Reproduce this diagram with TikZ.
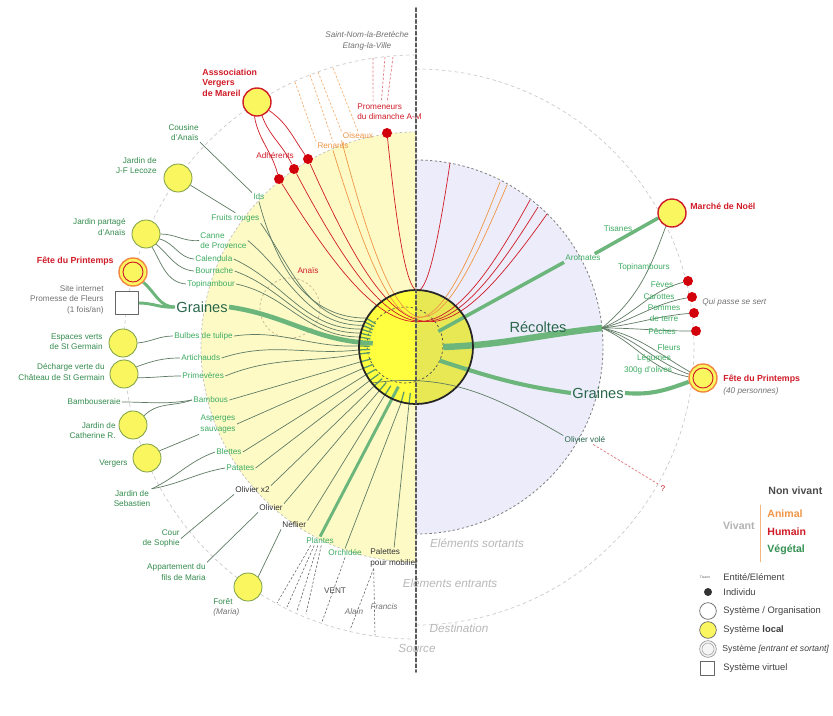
\documentclass[tikz,border=0pt]{standalone}
\usepackage{fontspec}
\setmainfont{Liberation Sans}
\usetikzlibrary{calc}
\usetikzlibrary{positioning}

\definecolor{LeafGreen}{RGB}{62,172,98}
\definecolor{SrcGreen}{RGB}{52,140,78}
\definecolor{DeepGreen}{RGB}{42,104,76}
\definecolor{FlowGreen}{RGB}{108,182,124}
\definecolor{LinkGray}{RGB}{96,124,100}
\definecolor{HumanRed}{RGB}{208,28,40}
\definecolor{DotRed}{RGB}{210,0,10}
\definecolor{AnimalOrange}{RGB}{240,150,70}
\definecolor{LocalYellow}{RGB}{250,246,96}
\definecolor{RimGreen}{RGB}{125,160,70}
\definecolor{ZoneYellow}{RGB}{253,250,198}
\definecolor{ZoneLilac}{RGB}{236,236,250}
\definecolor{CoreLeft}{RGB}{255,255,64}
\definecolor{CoreRight}{RGB}{232,232,84}
\definecolor{AnaisTan}{RGB}{200,180,140}

\pgfdeclarelayer{zones}
\pgfdeclarelayer{links}
\pgfsetlayers{zones,links,main}

\tikzset{
	lab/.style={inner sep=1pt, font=\fontsize{7}{9}\selectfont},
	itemlab/.style={lab, text=LeafGreen},
	thing/.style={lab, text=black!80},
	srclabel/.style={lab, text=SrcGreen, align=right},
	greylab/.style={lab, text=black!55, align=right},
	note/.style={lab, text=black!55, font=\fontsize{7}{9}\selectfont\itshape},
	redlab/.style={lab, text=HumanRed, font=\fontsize{7.5}{9}\selectfont\bfseries},
	humanlab/.style={lab, text=HumanRed},
	animallab/.style={lab, text=AnimalOrange},
	bigflow/.style={inner sep=1pt, text=DeepGreen, font=\fontsize{12.5}{14}\selectfont},
	zone/.style={text=black!28, font=\fontsize{10}{12}\selectfont\itshape},
	legendhead/.style={inner sep=1pt, font=\fontsize{9}{11}\selectfont\bfseries},
	legendlab/.style={lab, anchor=west, text=black!75, font=\fontsize{8}{10}\selectfont},
	localsys/.style={circle, draw=RimGreen, fill=LocalYellow, line width=0.7pt, minimum size=0.84cm, inner sep=0pt},
	orgsys/.style={localsys, draw=HumanRed, line width=1.2pt},
	eventsys/.style={localsys, draw=AnimalOrange!90!red, line width=1.2pt},
	virtsys/.style={rectangle, draw=black!60, fill=white, line width=0.9pt, minimum size=0.69cm, inner sep=0pt},
	coresys/.style={circle, draw=black!85, line width=1.5pt, minimum size=3.42cm, inner sep=0pt},
	indiv/.style={circle, fill=DotRed, minimum size=0.3cm, inner sep=0pt},
	link/.style={draw=LinkGray, line width=0.6pt},
	flowline/.style={draw=FlowGreen, line width=3pt, line cap=butt},
	tickmark/.style={draw=FlowGreen!85!black, line width=1.1pt, line cap=butt},
	humanline/.style={draw=HumanRed, line width=0.6pt},
	animalline/.style={draw=AnimalOrange, line width=0.6pt},
	humanpath/.style={draw=HumanRed!60, line width=0.6pt, dash pattern=on 2pt off 1.5pt},
	animalpath/.style={draw=AnimalOrange!75, line width=0.6pt, dash pattern=on 2pt off 1.5pt},
	srcpath/.style={draw=black!60, line width=0.5pt, dash pattern=on 2pt off 1.5pt},
	rimdash/.style={draw=black!20, line width=0.6pt, dash pattern=on 3pt off 2.5pt},
}

\begin{document}
\begin{tikzpicture}[x=0.03cm, y=0.03cm, line cap=round, line join=round]

	\useasboundingbox (0,0) rectangle (833,-715);
	\coordinate (C) at (416,-347);

	% Zones: entrants (left), sortants (right), source and destination rims
	\begin{pgfonlayer}{zones}
		\fill[white] (0,0) rectangle (833,-715);
		\fill[ZoneYellow] (416,-132) arc[start angle=90, end angle=270, radius=215] -- cycle;
		\draw[black!25, line width=0.6pt, dash pattern=on 2pt off 2pt] (416,-132) arc[start angle=90, end angle=270, radius=215];
		\fill[ZoneLilac] (416,-160) arc[start angle=90, end angle=-90, radius=187] -- cycle;
		\draw[black!50, line width=0.7pt, dash pattern=on 2pt off 2pt] (416,-160) arc[start angle=90, end angle=-90, radius=187];
		\draw[rimdash] (416,-55) arc[start angle=90, end angle=270, radius=292];
		\draw[rimdash] (416,-69) arc[start angle=90, end angle=-90, radius=278];
		% central system halves
		\fill[CoreLeft] (416,-290) arc[start angle=90, end angle=270, radius=57] -- cycle;
		\fill[CoreRight] (416,-290) arc[start angle=90, end angle=-90, radius=57] -- cycle;
		\draw[black!70, line width=0.6pt, dash pattern=on 2pt off 2pt] (405,-345) circle (38);
		% Anais
		\draw[AnaisTan, line width=0.6pt, dash pattern=on 2pt off 2pt] (290,-308) circle (30);
	\end{pgfonlayer}

	% Central system
	\node[coresys] (core) at (C) {};
	\coordinate (gin) at ($(C)!0.75!(core.175)$);
	\coordinate (pin) at ($(C)!0.75!(core.246)$);
	\coordinate (rin) at ($(C)!0.47!(core.0)$);
	\coordinate (ain) at ($(C)!0.47!(core.35)$);
	\coordinate (grin) at ($(C)!0.47!(core.-30)$);
	\coordinate (ovin) at (372,-383);
	\coordinate (hub) at (602,-328);

	% Source systems
	\node[orgsys] (assoc) at (257,-102) {};
	\node[redlab, anchor=west, align=left] (assoclab) at (201,-82.5) {Asssociation\\Vergers\\de Mareil};
	\node[srclabel, anchor=east] (cousine) at (200,-132.5) {Cousine\\d'Anaïs};
	\node[localsys] (jfl) at (178,-178) {};
	\node[srclabel, anchor=east] (jfllab) at (158,-165.5) {Jardin de\\J-F Lecoze};
	\node[localsys] (jpa) at (146,-234) {};
	\node[srclabel, anchor=east] (jpalab) at (127,-227) {Jardin partagé\\d'Anaïs};
	\node[eventsys] (fete1) at (133,-272) {};
	\draw[HumanRed, line width=0.8pt] (fete1.center) circle (10);
	\node[redlab, anchor=east] (fete1lab) at (115,-261) {Fête du Printemps};
	\node[virtsys] (web) at (127,-303) {};
	\node[greylab, anchor=east] (weblab) at (105,-299.5) {Site internet\\Promesse de Fleurs\\(1 fois/an)};
	\node[localsys] (evsg) at (123,-343) {};
	\node[srclabel, anchor=east] (evsglab) at (104,-341.5) {Espaces verts\\de St Germain};
	\node[localsys] (dv) at (124,-374) {};
	\node[srclabel, anchor=east] (dvlab) at (106,-372) {Décharge verte du\\Château de St Germain};
	\node[srclabel, anchor=east] (bambouseraie) at (122,-402) {Bambouseraie};
	\node[localsys] (jcr) at (133,-425) {};
	\node[srclabel, anchor=east] (jcrlab) at (117,-430.5) {Jardin de\\Catherine R.};
	\node[localsys] (vergers) at (147,-458) {};
	\node[srclabel, anchor=east] (vergerslab) at (129,-464) {Vergers};
	\node[srclabel, align=center] (sebastien) at (132,-498.5) {Jardin de\\Sebastien};
	\node[srclabel, anchor=east] (cour) at (181,-538.5) {Cour\\de Sophie};
	\node[srclabel, anchor=east] (appart) at (207,-572) {Appartement du\\fils de Maria};
	\node[localsys] (foret) at (248,-587) {};
	\node[srclabel, anchor=west] (foretlab) at (212,-602) {Forêt};
	\node[note, anchor=west] (foretnote) at (212,-612) {(Maria)};

	% Elements entering
	\node[itemlab, anchor=west] (ids) at (252,-197) {Ids};
	\node[itemlab, anchor=west] (fruits) at (210,-218) {Fruits rouges};
	\node[itemlab, anchor=west, align=left] (canne) at (199,-240.5) {Canne\\de Provence};
	\node[itemlab, anchor=west] (calendula) at (194,-259) {Calendula};
	\node[itemlab, anchor=west] (bourrache) at (194,-271) {Bourrache};
	\node[itemlab, anchor=west] (topinambour) at (186,-284) {Topinambour};
	\node[bigflow] (graines1) at (202,-307) {Graines};
	\node[itemlab, anchor=west] (bulbes) at (173,-336) {Bulbes de tulipe};
	\node[itemlab, anchor=west] (artichauds) at (180,-358) {Artichauds};
	\node[itemlab, anchor=west] (primeveres) at (181,-376) {Primevères};
	\node[itemlab, anchor=west] (bambous) at (192,-400) {Bambous};
	\node[itemlab, align=center] (asperges) at (218,-424) {Asperges\\sauvages};
	\node[itemlab, anchor=west] (blettes) at (215,-452) {Blettes};
	\node[itemlab, anchor=west] (patates) at (225,-468) {Patates};
	\node[thing, anchor=west] (olivier2) at (234,-490) {Olivier x2};
	\node[thing, anchor=west] (olivier) at (258,-508) {Olivier};
	\node[thing, anchor=west] (neflier) at (281,-525) {Néflier};
	\node[itemlab, anchor=west] (plantes) at (305,-541) {Plantes};
	\node[itemlab, anchor=west] (orchidee) at (327,-553) {Orchidée};
	\node[thing, anchor=west, align=left] (palettes) at (369,-558) {Palettes\\pour mobilier};
	\node[thing, text=black!70] (vent) at (335,-591) {VENT};
	\node[note] (alain) at (354,-612) {Alain};
	\node[note] (francis) at (384,-607) {Francis};

	% Humans and animals
	\node[note, align=center] (saintnom) at (367,-41) {Saint-Nom-la-Bretèche\\Etang-la-Ville};
	\node[humanlab, anchor=west, align=left] (promeneurs) at (356,-111.5) {Promeneurs\\du dimanche A-M};
	\node[indiv] (dotp) at (387,-133) {};
	\node[humanlab] (adherents) at (275,-156) {Adhérents};
	\node[indiv] (d1) at (279,-179) {};
	\node[indiv] (d2) at (294,-169) {};
	\node[indiv] (d3) at (308,-159) {};
	\node[animallab] (renards) at (333,-146) {Renards};
	\node[animallab] (oiseaux) at (358,-136) {Oiseaux};
	\node[humanlab] (anais) at (308,-271) {Anaïs};
	\coordinate (rp0) at (450,-163);
	\coordinate (ro1) at (500,-182);
	\coordinate (ro2) at (507,-185);
	\coordinate (rr1) at (530,-200);
	\coordinate (rr2) at (538,-207);
	\coordinate (rr3) at (547,-214);

	% Destinations
	\node[bigflow] (recoltes) at (538,-327) {Récoltes};
	\node[itemlab] (aromates) at (583,-258) {Aromates};
	\node[itemlab] (tisanes) at (618,-229) {Tisanes};
	\node[orgsys] (marche) at (672,-213) {};
	\node[redlab, anchor=west] (marchelab) at (689,-206) {Marché de Noël};
	\node[itemlab] (topinambours) at (644,-267) {Topinambours};
	\node[itemlab] (feves) at (662,-285) {Fèves};
	\node[itemlab] (carottes) at (659,-297) {Carottes};
	\node[itemlab, align=center] (pommes) at (664,-313) {Pommes\\de terre};
	\node[itemlab] (peches) at (662,-332) {Pêches};
	\node[itemlab] (fleurs) at (669,-348) {Fleurs};
	\node[itemlab] (legumes) at (654,-358) {Légumes};
	\node[itemlab] (olives) at (648,-370) {300g d'olives};
	\node[indiv] (rf) at (688,-281) {};
	\node[indiv] (rc) at (692,-297) {};
	\node[indiv] (rpt) at (694,-313) {};
	\node[indiv] (rpe) at (696,-331) {};
	\node[note, anchor=west] (quipasse) at (701,-302) {Qui passe se sert};
	\node[bigflow] (graines2) at (598,-393) {Graines};
	\node[eventsys] (fete2) at (703,-378) {};
	\draw[HumanRed, line width=0.8pt] (fete2.center) circle (10);
	\node[redlab, anchor=west] (fete2lab) at (722,-379) {Fête du Printemps};
	\node[note, anchor=west] (fete2note) at (722,-391) {(40 personnes)};
	\node[lab, text=DeepGreen] (olivvole) at (585,-440) {Olivier volé};
	\node[humanlab] (question) at (663,-489) {?};

	% Zone names
	\node[zone] (sortants) at (477,-543) {Eléments sortants};
	\node[zone] (entrants) at (450,-583) {Eléments entrants};
	\node[zone] (destination) at (459,-628) {Destination};
	\node[zone] (source) at (417,-648) {Source};

	\begin{pgfonlayer}{links}
		% sources to elements
		\draw[link] (cousine.south east) -- (ids.north west);
		\draw[link] (jfl.-30) -- (fruits.north);
		\draw[link] (jpa.east) to[out=0,in=185] (canne.west);
		\draw[link] (jpa.-20) to[out=-15,in=175] (calendula.west);
		\draw[link] (jpa.-45) to[out=-40,in=175] (bourrache.west);
		\draw[link] (jpa.-65) to[out=-60,in=175] (topinambour.west);
		\draw[flowline, line width=2.5pt] (fete1.-45) to[out=-40,in=180] (graines1.west);
		\draw[flowline, line width=2.5pt] (web.east) to[out=0,in=185] (graines1.west);
		\draw[link] (evsg.east) to[out=5,in=180] (bulbes.west);
		\draw[link] (dv.30) to[out=20,in=180] (artichauds.west);
		\draw[link] (dv.-15) to[out=0,in=180] (primeveres.west);
		\draw[link] (bambouseraie.east) to[out=0,in=190] (bambous.west);
		\draw[link] (jcr.40) to[out=45,in=200] (bambous.west);
		\draw[link] (vergers.30) -- (asperges.south west);
		\draw[link] (sebastien.north east) to[out=25,in=200] (blettes.west);
		\draw[link] (sebastien.north east) to[out=10,in=190] (patates.west);
		\draw[link] (cour.east) -- (olivier2.south west);
		\draw[link] (appart.north east) -- (olivier.south west);
		\draw[link] (foret.north east) -- (neflier.south west);
		% elements into the central system
		\draw[link] (ids.south) to[out=-75,in=180] (core.150);
		\draw[link] (fruits.south east) to[out=-55,in=180] (core.154);
		\draw[link] (canne.east) to[out=-40,in=180] (core.158);
		\draw[link] (calendula.east) to[out=-25,in=180] (core.162);
		\draw[link] (bourrache.east) to[out=-20,in=180] (core.166);
		\draw[link] (topinambour.east) to[out=-12,in=180] (core.170);
		\draw[flowline, line width=4pt] (graines1.east) to[out=-8,in=178] (gin);
		\draw[link] (bulbes.east) to[out=8,in=182] (core.179);
		\draw[link] (artichauds.east) to[out=18,in=186] (core.183);
		\draw[link] (primeveres.east) to[out=22,in=190] (core.187);
		\draw[link] (bambous.east) -- (core.195);
		\draw[link] (asperges.east) -- (core.202);
		\draw[link] (blettes.east) -- (core.209);
		\draw[link] (patates.east) -- (core.216);
		\draw[link] (olivier2.north east) -- (core.223);
		\draw[link] (olivier.north east) -- (core.230);
		\draw[link] (neflier.north east) -- (core.237);
		\draw[flowline, line width=2.5pt] (plantes.north) -- (pin);
		\draw[link] (orchidee.north) -- (core.255);
		\draw[link] (palettes.north) -- (core.263);
		\foreach \a in {150,154,158,162,166,170,179,183,187,195,202,209,216,223,230,237,255,263}
			\draw[tickmark] (core.\a) -- ($(C)!0.8!(core.\a)$);
		% outer sources of plants and pallets
		\coordinate (pd1) at (277,-603);
		\coordinate (pd2) at (287,-607);
		\coordinate (pd3) at (297,-611);
		\coordinate (pd4) at (306,-614);
		\coordinate (vd) at (322,-622);
		\coordinate (ad) at (350,-630);
		\coordinate (fd) at (375,-635);
		\draw[srcpath] ([xshift=-8]plantes.south) -- (pd1);
		\draw[srcpath] ([xshift=-5]plantes.south) -- (pd2);
		\draw[srcpath] ([xshift=-2]plantes.south) -- (pd3);
		\draw[srcpath] ([xshift=1]plantes.south) -- (pd4);
		\draw[srcpath] (orchidee.south) -- (vd);
		\draw[srcpath] ([xshift=4]palettes.south west) -- (ad);
		\draw[srcpath] ([xshift=4]palettes.south west) -- (fd);
		% humans and animals crossing
		\coordinate (pt1) at (373,-58);
		\coordinate (pt2) at (385,-57);
		\coordinate (pt3) at (393,-57);
		\draw[humanpath] (pt1) -- ([xshift=-14]promeneurs.north);
		\draw[humanpath] (pt2) -- ([xshift=-7]promeneurs.north);
		\draw[humanpath] (pt3) -- ([xshift=-2]promeneurs.north);
		\coordinate (oa1) at (295,-82);
		\coordinate (oa2) at (310,-75);
		\coordinate (oa3) at (318,-72);
		\coordinate (oa4) at (333,-68);
		\draw[animalpath] (oa1) -- (renards.north west);
		\draw[animalpath] (oa2) -- (renards.north);
		\draw[animalpath] (oa3) -- (oiseaux.north west);
		\draw[animalpath] (oa4) -- (oiseaux.north);
		\draw[humanline] (assoc.-100) to[out=-80,in=105] (d1);
		\draw[humanline] (assoc.-70) to[out=-70,in=115] (d2);
		\draw[humanline] (assoc.-35) to[out=-35,in=125] (d3);
		\draw[humanline] (d1) .. controls (395,-365) and (440,-365) .. (rr1);
		\draw[humanline] (d2) .. controls (398,-365) and (440,-365) .. (rr2);
		\draw[humanline] (d3) .. controls (400,-365) and (440,-365) .. (rr3);
		\draw[animalline] (renards.south) .. controls (400,-368) and (428,-368) .. (ro1);
		\draw[animalline] (oiseaux.south west) .. controls (402,-368) and (430,-368) .. (ro2);
		\draw[humanline] (dotp) .. controls (408,-337) and (424,-337) .. (rp0);
		% elements leaving
		\draw[flowline, line width=5.5pt] (rin) to[out=2,in=186] (hub);
		\draw[flowline] (ain) -- (aromates.south west);
		\draw[flowline] ([xshift=10]aromates.north) -- (marche.200);
		\draw[link] (hub) to[out=40,in=-110] (marche.-115);
		\draw[link] (hub) to[out=22,in=195] (rf);
		\draw[link] (hub) to[out=14,in=190] (rc);
		\draw[link] (hub) to[out=6,in=185] (rpt);
		\draw[link] (hub) to[out=0,in=180] (rpe);
		\draw[link] (hub) to[out=-12,in=150] (fete2.155);
		\draw[link] (hub) to[out=-18,in=160] (fete2.165);
		\draw[link] (hub) to[out=-24,in=170] (fete2.175);
		\draw[flowline, line width=3.5pt] (grin) to[out=-18,in=172] (graines2.west);
		\draw[flowline, line width=3.5pt] (graines2.east) to[out=-5,in=200] (fete2.195);
		\draw[link] (ovin) to[out=8,in=150] (olivvole.north west);
		\draw[humanpath] ([xshift=7]olivvole.south) -- (question.north west);
	\end{pgfonlayer}

	% Axis between entrants and sortants
	\draw[black!65, line width=1.3pt, dash pattern=on 3pt off 2pt] (416,-8) -- (416,-672);

	% Legend
	\node[legendhead, text=black!70, anchor=west] (nonvivant) at (767,-491) {Non vivant};
	\node[legendhead, text=black!30, anchor=east] (vivant) at (756,-526) {Vivant};
	\node[legendhead, text=AnimalOrange, anchor=west] (animal) at (766,-514) {Animal};
	\node[legendhead, text=HumanRed, anchor=west] (humain) at (766,-532) {Humain};
	\node[legendhead, text=LeafGreen!85!black, anchor=west] (vegetal) at (766,-550) {Végétal};
	\draw[AnimalOrange!70, line width=0.6pt] (760,-505) -- (760,-562);
	\node[lab, text=black!60, font=\fontsize{3}{3}\selectfont] (lgtisane) at (705,-577) {Tisane};
	\node[legendlab] (entite) at (722,-577) {Entité/Elément};
	\node[circle, fill=black!80, minimum size=0.24cm, inner sep=0pt] (lgdot) at (708,-592) {};
	\node[legendlab] (individu) at (722,-592) {Individu};
	\node[circle, draw=black!60, fill=white, line width=0.6pt, minimum size=0.5cm, inner sep=0pt] (lgorg) at (708,-611) {};
	\node[legendlab] (sysorg) at (722,-611) {Système / Organisation};
	\node[circle, draw=black!60, fill=LocalYellow, line width=0.6pt, minimum size=0.5cm, inner sep=0pt] (lglocal) at (708,-630) {};
	\node[legendlab] (syslocal) at (722,-630) {Système \textbf{local}};
	\node[circle, draw=black!40, fill=black!4, line width=0.6pt, minimum size=0.5cm, inner sep=0pt] (lgio) at (708,-649) {};
	\draw[black!35, line width=0.5pt] (lgio.center) circle (6);
	\node[legendlab, font=\fontsize{7.4}{9}\selectfont] (sysio) at (721,-649) {Système \textit{[entrant et sortant]}};
	\node[virtsys, minimum size=0.42cm, line width=0.6pt] (lgvirt) at (707,-668) {};
	\node[legendlab] (sysvirt) at (722,-668) {Système virtuel};

\end{tikzpicture}
\end{document}
